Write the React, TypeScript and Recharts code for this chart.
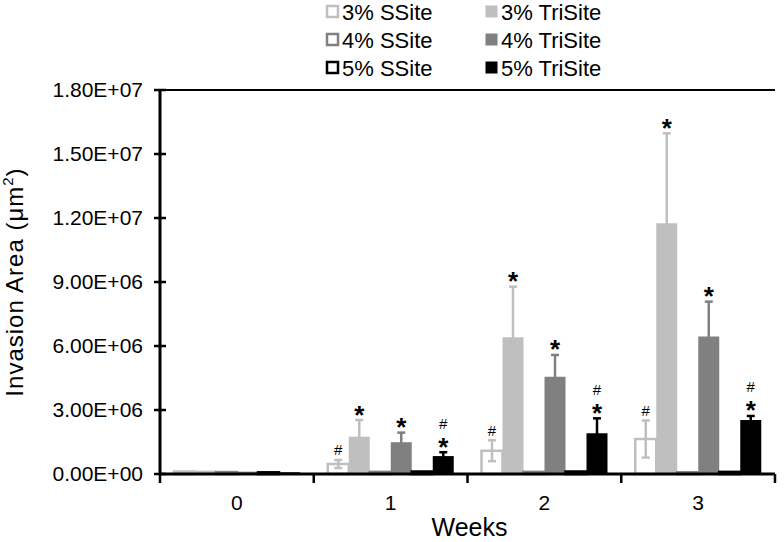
import React from 'react';
import { BarChart, Bar, XAxis, YAxis, ErrorBar, LabelList, Legend, ReferenceLine } from 'recharts';

const FONT = '"Liberation Sans", Arial, Helvetica, sans-serif';

const weeks = ['0', '1', '2', '3'];
const yTicks = [0, 3e6, 6e6, 9e6, 1.2e7, 1.5e7, 1.8e7];

const ssite3 = [0.12e6, 0.47e6, 1.09e6, 1.64e6];
const ssite3Err = [0, 0.19e6, 0.49e6, 0.87e6];
const trisite3 = [0.16e6, 1.75e6, 6.41e6, 11.75e6];
const trisite3Err = [0, 0.78e6, 2.37e6, 4.22e6];
const ssite4 = [0.09e6, 0.1e6, 0.1e6, 0.08e6];
const ssite4Err = [0, 0, 0, 0];
const trisite4 = [0.11e6, 1.49e6, 4.56e6, 6.44e6];
const trisite4Err = [0, 0.45e6, 1.02e6, 1.64e6];
const ssite5 = [0.08e6, 0.12e6, 0.12e6, 0.1e6];
const ssite5Err = [0, 0, 0, 0];
const trisite5 = [0.08e6, 0.84e6, 1.91e6, 2.53e6];
const trisite5Err = [0, 0.18e6, 0.7e6, 0.19e6];

const ssite3Marks = ['', '#', '#', '#'];
const trisite3Marks = ['', '*', '*', '*'];
const ssite4Marks = ['', '', '', ''];
const trisite4Marks = ['', '*', '*', '*'];
const ssite5Marks = ['', '', '', ''];
const trisite5Marks = ['', '#*', '#*', '#*'];

const C3 = '#bfbfbf';
const C4 = '#808080';
const C5 = '#000000';

const series = [
  { key: 's3', err: 's3e', name: '3% SSite', color: C3, open: true, values: ssite3, errs: ssite3Err, marks: ssite3Marks },
  { key: 't3', err: 't3e', name: '3% TriSite', color: C3, open: false, values: trisite3, errs: trisite3Err, marks: trisite3Marks },
  { key: 's4', err: 's4e', name: '4% SSite', color: C4, open: true, values: ssite4, errs: ssite4Err, marks: ssite4Marks },
  { key: 't4', err: 't4e', name: '4% TriSite', color: C4, open: false, values: trisite4, errs: trisite4Err, marks: trisite4Marks },
  { key: 's5', err: 's5e', name: '5% SSite', color: C5, open: true, values: ssite5, errs: ssite5Err, marks: ssite5Marks },
  { key: 't5', err: 't5e', name: '5% TriSite', color: C5, open: false, values: trisite5, errs: trisite5Err, marks: trisite5Marks },
];

const data = weeks.map((w, i) => {
  const row: any = { week: w, idx: i };
  series.forEach((s) => {
    row[s.key] = s.values[i];
    row[s.err] = s.errs[i];
  });
  return row;
});

const fmtSci = (v: number) => {
  if (v === 0) return '0.00E+00';
  const e = Math.floor(Math.log10(Math.abs(v)) + 1e-9);
  const m = v / Math.pow(10, e);
  return `${m.toFixed(2)}E${e >= 0 ? '+' : '-'}${String(Math.abs(e)).padStart(2, '0')}`;
};

const YTick = (p: any) => {
  const { x, y, payload } = p;
  return (
    <g>
      <line x1={x - 6} x2={x + 6} y1={y} y2={y} stroke="#000" strokeWidth={2.5} />
      <text x={x - 17} y={y} dy="0.355em" textAnchor="end" fontFamily={FONT} fontSize={21} fill="#000">
        {fmtSci(payload.value)}
      </text>
    </g>
  );
};

const XTick = (p: any) => {
  const { x, y, payload, index, visibleTicksCount, width } = p;
  const count = visibleTicksCount || weeks.length;
  const band = (width || 615) / count;
  return (
    <g>
      <line x1={x - band / 2} x2={x - band / 2} y1={y} y2={y + 9} stroke="#000" strokeWidth={2.5} />
      {index === count - 1 && (
        <line x1={x + band / 2} x2={x + band / 2} y1={y} y2={y + 9} stroke="#000" strokeWidth={2.5} />
      )}
      <text x={x} y={y + 21} dy="0.71em" textAnchor="middle" fontFamily={FONT} fontSize={21} fill="#000">
        {payload.value}
      </text>
    </g>
  );
};

const YLabel = (p: any) => {
  const vb = p.viewBox || { y: 90, height: 384 };
  const cy = vb.y + vb.height / 2;
  return (
    <text
      x={23}
      y={cy}
      transform={`rotate(-90, 23, ${cy})`}
      textAnchor="middle"
      fontFamily={FONT}
      fontSize={24}
      letterSpacing={1}
      fill="#000"
    >
      Invasion Area (μm
      <tspan dy={-10} fontSize={15}>2</tspan>
      <tspan dy={10}>)</tspan>
    </text>
  );
};

const XLabel = (p: any) => {
  const vb = p.viewBox || { x: 160, width: 615 };
  return (
    <text x={vb.x + vb.width / 2 + 2} y={536} textAnchor="middle" fontFamily={FONT} fontSize={25} fill="#000">
      Weeks
    </text>
  );
};

const makeMark = (s: any) => (p: any) => {
  const idx = Number(p.value);
  const mark = s.marks[idx];
  if (!mark) return null;
  const vb = p.viewBox && p.viewBox.width !== undefined ? p.viewBox : p;
  const { x, y, width, height } = vb;
  const val = s.values[idx];
  const err = s.errs[idx];
  const ppu = Math.abs(height) / val;
  const top = Math.min(y, y + height) - err * ppu;
  const cx = x + width / 2;
  const star = (c: number) => (
    <text x={cx} y={c + 14.5} textAnchor="middle" fontFamily={FONT} fontWeight="bold" fontSize={26} fill="#000">*</text>
  );
  const hash = (c: number) => (
    <text x={cx} y={c + 5.4} textAnchor="middle" fontFamily={FONT} fontSize={15} fill="#000">#</text>
  );
  if (mark === '*') return <g>{star(top - 11)}</g>;
  if (mark === '#') return <g>{hash(top - 10)}</g>;
  return (
    <g>
      {star(top - 11)}
      {hash(top - 29)}
    </g>
  );
};

const legendLayout = [
  { s: 0, col: 0, row: 0 },
  { s: 2, col: 0, row: 1 },
  { s: 4, col: 0, row: 2 },
  { s: 1, col: 1, row: 0 },
  { s: 3, col: 1, row: 1 },
  { s: 5, col: 1, row: 2 },
];
const legendColX = [326, 485];
const legendRowY = [12, 40, 68];

const LegendContent = () => (
  <svg width={784} height={85} style={{ display: 'block' }}>
    {legendLayout.map((l) => {
      const s = series[l.s];
      const x = legendColX[l.col];
      const cy = legendRowY[l.row];
      return (
        <g key={s.key}>
          <rect
            x={x + 1}
            y={cy - 6}
            width={11}
            height={11}
            fill={s.open ? '#fff' : s.color}
            stroke={s.color}
            strokeWidth={s.open ? 2.5 : 1}
          />
          <text x={x + 16} y={cy + 8} fontFamily={FONT} fontSize={22} fill="#000">
            {s.name}
          </text>
        </g>
      );
    })}
  </svg>
);

export default function App() {
  return (
    <div style={{ position: 'absolute', left: 0, top: 0, width: 784, height: 542, background: '#fff' }}>
      <BarChart
        width={784}
        height={542}
        data={data}
        margin={{ top: 90, right: 9, bottom: 0, left: 0 }}
        barCategoryGap={14}
        barGap={0}
      >
        <XAxis
          xAxisId="x"
          dataKey="week"
          height={68}
          axisLine={{ stroke: '#000', strokeWidth: 3 }}
          tickLine={false}
          tickSize={0}
          tickMargin={0}
          interval={0}
          tick={<XTick />}
          label={{ content: <XLabel /> } as any}
        />
        <YAxis
          yAxisId="y"
          width={160}
          domain={[0, 1.8e7]}
          ticks={yTicks}
          interval={0}
          axisLine={{ stroke: '#000', strokeWidth: 3 }}
          tickLine={false}
          tickSize={0}
          tickMargin={0}
          tick={<YTick />}
          label={{ content: <YLabel /> } as any}
        />
        <YAxis
          yAxisId="r"
          orientation="right"
          width={0}
          tick={false}
          tickLine={false}
          axisLine={{ stroke: '#000', strokeWidth: 2 }}
        />
        <ReferenceLine xAxisId="x" yAxisId="y" y={1.8e7} stroke="#000" strokeWidth={2} ifOverflow="extendDomain" />
        <Legend
          layout="vertical"
          align="center"
          verticalAlign="middle"
          wrapperStyle={{ top: 0, left: 0, width: 784, height: 85 }}
          content={<LegendContent />}
        />
        {series.map((s) => (
          <Bar
            key={s.key}
            xAxisId="x"
            yAxisId="y"
            dataKey={s.key}
            name={s.name}
            fill={s.open ? '#ffffff' : s.color}
            stroke={s.open ? s.color : 'none'}
            strokeWidth={s.open ? 2.5 : 0}
            isAnimationActive={false}
          >
            <ErrorBar dataKey={s.err} direction="y" stroke={s.color} strokeWidth={2.5} width={4} />
            <LabelList dataKey="idx" content={makeMark(s)} />
          </Bar>
        ))}
      </BarChart>
    </div>
  );
}
